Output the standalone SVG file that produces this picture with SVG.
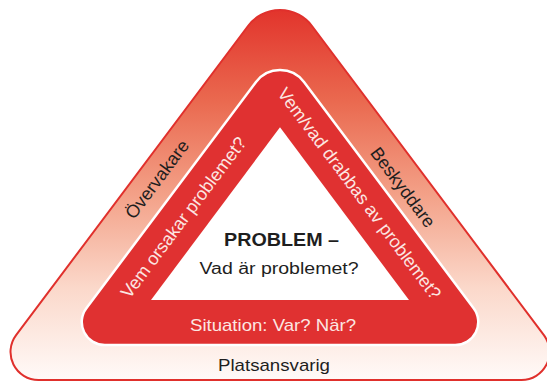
<svg xmlns="http://www.w3.org/2000/svg" width="547" height="382" viewBox="0 0 547 382">
  <defs>
    <linearGradient id="outerGrad" gradientUnits="userSpaceOnUse" x1="0" y1="10" x2="0" y2="380">
      <stop offset="0" stop-color="#e2342c"/>
      <stop offset="0.25" stop-color="#ea6a50"/>
      <stop offset="0.5" stop-color="#f3a188"/>
      <stop offset="0.75" stop-color="#fbd8ca"/>
      <stop offset="1" stop-color="#fffaf8"/>
    </linearGradient>
    <style>
      .lbl { font-family: "Liberation Sans", Arial, sans-serif; fill: #1e1e1e; text-anchor: middle; }
      .wlbl { font-family: "Liberation Sans", Arial, sans-serif; fill: #fce6e2; text-anchor: middle; }
    </style>
  </defs>
  <rect width="547" height="382" fill="#ffffff"/>
  <g id="outer-triangle">
    <path d="M248,26 A40,40 0 0 1 312,26 L543.9,335.2 A28,28 0 0 1 521.5,380 L38.5,380 A28,28 0 0 1 16.1,335.2 Z" fill="url(#outerGrad)" stroke="#e0302c" stroke-width="2"/>
    <text class="lbl" font-size="18" transform="translate(162,183) rotate(-53.13)">Övervakare</text>
    <text class="lbl" font-size="18" transform="translate(398,191) rotate(53.13)">Beskyddare</text>
    <text class="lbl" font-size="17" x="274" y="371" textLength="112" lengthAdjust="spacingAndGlyphs">Platsansvarig</text>
  </g>
  <g id="inner-triangle">
    <path d="M256,82 A30,30 0 0 1 304,82 L473.65,308.2 A23,23 0 0 1 455.25,345 L104.75,345 A23,23 0 0 1 86.35,308.2 Z" fill="#e03131" stroke="#ffffff" stroke-width="2.5"/>
    <text class="wlbl" font-size="18" transform="translate(188.4,221.1) rotate(-53.13)">Vem orsakar problemet?</text>
    <text class="wlbl" font-size="18" transform="translate(354.5,197.2) rotate(53.13)">Vem/vad drabbas av problemet?</text>
    <text class="wlbl" font-size="17" x="273" y="331" textLength="166" lengthAdjust="spacingAndGlyphs">Situation: Var? När?</text>
  </g>
  <g id="problem">
    <polygon points="280,127.3 151,300 409,300" fill="#ffffff"/>
    <text class="lbl" font-size="18" font-weight="bold" x="281.5" y="246" textLength="115" lengthAdjust="spacingAndGlyphs">PROBLEM –</text>
    <text class="lbl" font-size="16" x="279" y="274" textLength="159" lengthAdjust="spacingAndGlyphs">Vad är problemet?</text>
  </g>
  <g id="connectors"/>
</svg>
